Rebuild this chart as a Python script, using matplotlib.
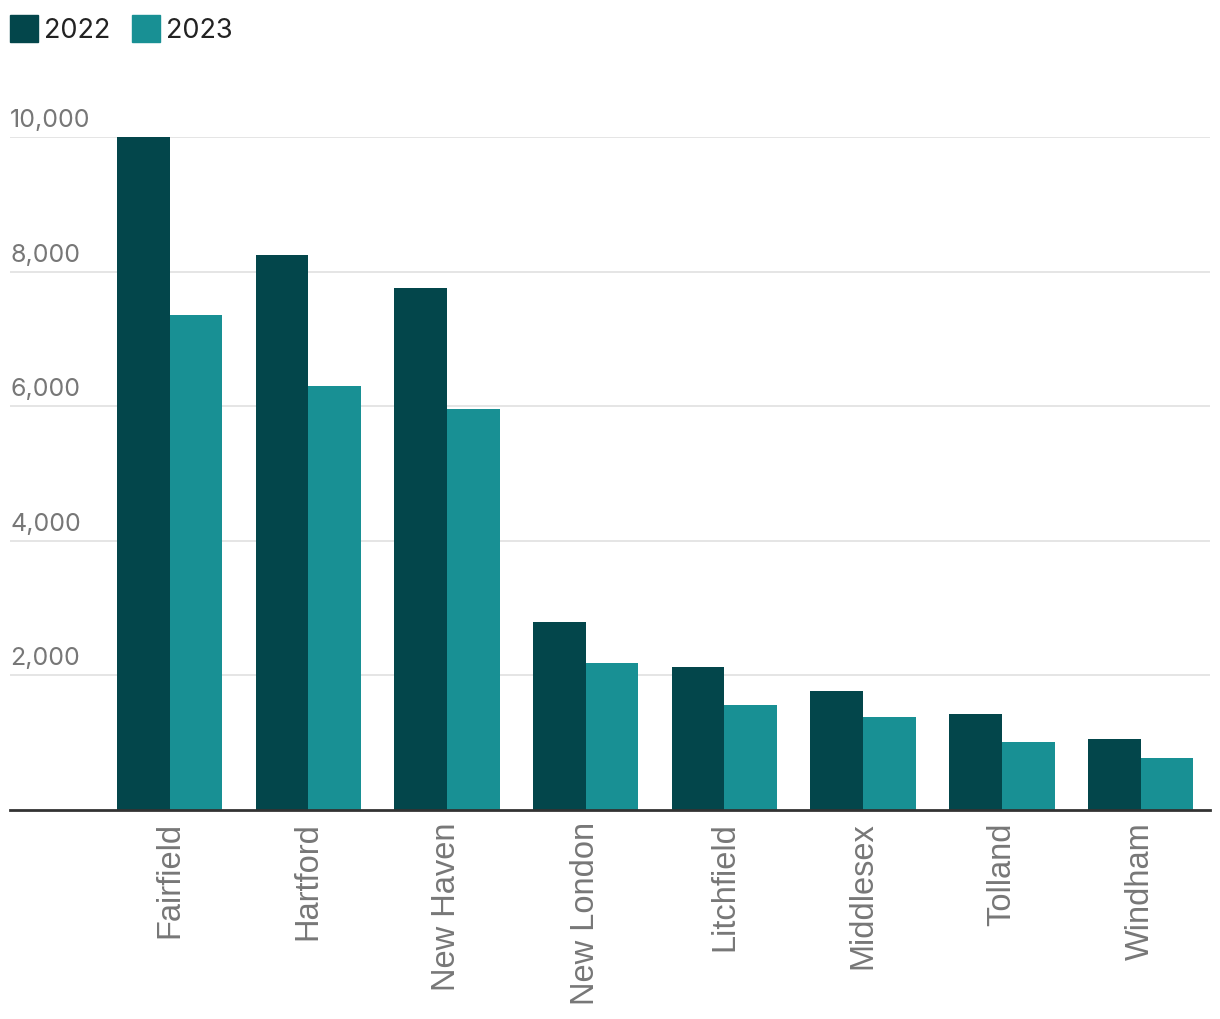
import matplotlib
matplotlib.use("Agg")
import matplotlib.pyplot as plt
import numpy as np
from matplotlib.patches import Rectangle

counties = ["Fairfield", "Hartford", "New Haven", "New London", "Litchfield", "Middlesex", "Tolland", "Windham"]
v2022 = [10000, 8250, 7760, 2795, 2125, 1770, 1425, 1055]
v2023 = [7355, 6300, 5960, 2185, 1560, 1380, 1010, 775]
yticks = [2000, 4000, 6000, 8000, 10000]
years = ["2022", "2023"]
colors = ["#03464B", "#189094"]

W, H = 1220, 1020
fig = plt.figure(figsize=(W/100, H/100), dpi=100)
left, right = 10, 1210
top, bottom = 138, 811
ax = fig.add_axes([left/W, 1-bottom/H, (right-left)/W, (bottom-top)/H])

x = np.arange(len(counties))
bw = 0.38
ax.bar(x - bw/2, v2022, bw, color=colors[0], zorder=3, clip_on=False)
ax.bar(x + bw/2, v2023, bw, color=colors[1], zorder=3, clip_on=False)
ax.set_xlim(-1.15, 7.5)
ax.set_ylim(0, 10000)

for s in ["top", "right", "left"]:
    ax.spines[s].set_visible(False)
ax.spines["bottom"].set_color("#333333")
ax.spines["bottom"].set_linewidth(2)
ax.spines["bottom"].set_zorder(4)

ax.set_yticks(yticks)
ax.set_yticklabels([])
ax.tick_params(axis="y", length=0)
ax.grid(axis="y", color="#e3e3e3", linewidth=1.3, zorder=0)
for t in yticks:
    ax.annotate(f"{t:,}", xy=(0, t), xycoords=("axes fraction", "data"),
                xytext=(0, 6), textcoords="offset pixels", ha="left", va="bottom",
                fontsize=18, color="#777777", family="Inter")

ax.set_xticks(x)
ax.set_xticklabels(counties, rotation=90, fontsize=23.5, color="#777777",
                   family="Liberation Sans", va="top", ha="center")
ax.tick_params(axis="x", length=0, pad=8)

# legend
for i, (lab, c, xs) in enumerate(zip(years, colors, [10, 132])):
    fig.patches.append(Rectangle((xs/W, 1-43/H), 28/W, 27/H, transform=fig.transFigure,
                                 color=c))
    fig.text((xs+34)/W, 1-31/H, lab, fontsize=19.5, color="#222222", family="Inter",
             va="center", ha="left")

fig.savefig("out.png", dpi=100)
